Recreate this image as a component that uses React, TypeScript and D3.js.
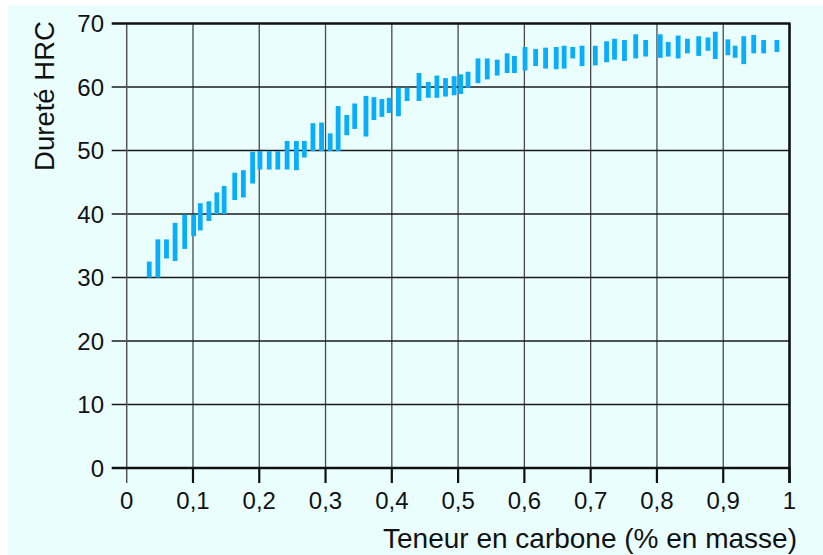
import React, { useRef, useEffect } from "react";
import * as d3 from "d3";

// Carbon content (% mass) at each bar centre, min / max hardness HRC
const carbon = [
  0.034, 0.047, 0.06, 0.073, 0.0875, 0.101, 0.111, 0.124, 0.136, 0.147, 0.163, 0.176,
  0.19, 0.201, 0.215, 0.228, 0.242, 0.256, 0.268, 0.281, 0.294, 0.307, 0.319, 0.332,
  0.344, 0.361, 0.373, 0.385, 0.396, 0.41, 0.423, 0.441, 0.455, 0.468, 0.481, 0.494,
  0.504, 0.515, 0.53, 0.544, 0.559, 0.574, 0.585, 0.601, 0.617, 0.632, 0.648, 0.66,
  0.673, 0.687, 0.707, 0.724, 0.736, 0.751, 0.768, 0.783, 0.805, 0.817, 0.832, 0.846,
  0.863, 0.877, 0.888, 0.907, 0.918, 0.931, 0.946, 0.961, 0.981,
];
const hrcMin = [
  30.0, 30.0, 33.0, 32.6, 34.5, 36.5, 37.4, 38.9, 40.0, 40.0, 42.2, 42.6,
  44.8, 47.0, 47.0, 47.0, 47.0, 46.9, 48.9, 49.9, 49.9, 49.9, 49.9, 52.4,
  53.4, 52.2, 54.8, 55.3, 55.9, 55.4, 57.8, 57.8, 58.3, 58.3, 58.5, 58.7,
  58.9, 59.9, 60.6, 61.2, 61.8, 62.2, 62.2, 62.6, 63.3, 62.9, 62.8, 62.9,
  64.5, 63.3, 63.4, 63.9, 64.3, 64.1, 64.5, 64.8, 64.6, 64.8, 64.5, 65.3,
  64.9, 65.7, 64.4, 65.0, 64.6, 63.6, 65.3, 65.3, 65.5,
];
const hrcMax = [
  32.5, 36.0, 36.0, 38.6, 39.9, 39.9, 41.7, 42.0, 43.4, 44.4, 46.5, 46.9,
  49.8, 49.9, 49.9, 49.9, 51.5, 51.5, 51.5, 54.3, 54.4, 52.7, 57.0, 55.6,
  57.4, 58.6, 58.4, 58.1, 58.3, 59.9, 59.9, 62.2, 60.8, 61.8, 61.4, 61.7,
  62.0, 62.4, 64.5, 64.5, 64.3, 65.3, 64.9, 66.3, 66.0, 66.2, 66.3, 66.5,
  66.3, 66.5, 66.5, 67.2, 67.6, 67.4, 68.3, 67.4, 68.3, 67.1, 68.1, 67.6,
  68.0, 67.8, 68.7, 67.5, 66.5, 68.0, 68.2, 67.4, 67.4,
];
const xTicks = [0, 0.1, 0.2, 0.3, 0.4, 0.5, 0.6, 0.7, 0.8, 0.9, 1];
const yTicks = [0, 10, 20, 30, 40, 50, 60, 70];

const W = 823;
const H = 555;
const FONT = "'Liberation Sans', Arial, sans-serif";

const App = () => {
  const ref = useRef<SVGSVGElement>(null);

  useEffect(() => {
    const svg = d3.select(ref.current);
    svg.selectAll("*").remove();

    const x = d3.scaleLinear().domain([0, 1]).range([126.7, 789.5]);
    const y = d3.scaleLinear().domain([0, 70]).range([468, 23.5]);

    svg.append("rect").attr("width", W).attr("height", H).attr("fill", "#fff");
    svg
      .append("rect")
      .attr("x", 8)
      .attr("y", 5)
      .attr("width", W - 8)
      .attr("height", H - 5)
      .attr("fill", "#eafefe");

    const g = svg.append("g");

    // grid
    g.selectAll("line.vg")
      .data(xTicks.slice(1, -1))
      .enter()
      .append("line")
      .attr("x1", (d) => x(d))
      .attr("x2", (d) => x(d))
      .attr("y1", y(70))
      .attr("y2", y(0))
      .attr("stroke", "#4a4a4a")
      .attr("stroke-width", 1.3);
    g.selectAll("line.hg")
      .data(yTicks.slice(1, -1))
      .enter()
      .append("line")
      .attr("x1", x(0) - 15)
      .attr("x2", x(1))
      .attr("y1", (d) => y(d))
      .attr("y2", (d) => y(d))
      .attr("stroke", "#1a1a1a")
      .attr("stroke-width", 1.4);

    // left axis line (thin, grey)
    g.append("line")
      .attr("x1", x(0))
      .attr("x2", x(0))
      .attr("y1", y(70))
      .attr("y2", y(0) + 15)
      .attr("stroke", "#555")
      .attr("stroke-width", 1.5);

    // x tick marks
    g.selectAll("line.xt")
      .data(xTicks.slice(1))
      .enter()
      .append("line")
      .attr("x1", (d) => x(d))
      .attr("x2", (d) => x(d))
      .attr("y1", y(0))
      .attr("y2", y(0) + 15)
      .attr("stroke", "#111")
      .attr("stroke-width", 2.2);

    // bars
    g.selectAll("rect.bar")
      .data(carbon)
      .enter()
      .append("rect")
      .attr("x", (d) => x(d) - 2.4)
      .attr("width", 4.8)
      .attr("y", (d, i) => y(hrcMax[i]))
      .attr("height", (d, i) => y(hrcMin[i]) - y(hrcMax[i]))
      .attr("fill", "#08aef9");

    // bottom, top and right borders
    g.append("line")
      .attr("x1", x(0) - 15)
      .attr("x2", x(1) + 1)
      .attr("y1", y(0))
      .attr("y2", y(0))
      .attr("stroke", "#111")
      .attr("stroke-width", 2.6);
    g.append("line")
      .attr("x1", x(0) - 15)
      .attr("x2", x(1) + 1)
      .attr("y1", y(70))
      .attr("y2", y(70))
      .attr("stroke", "#111")
      .attr("stroke-width", 2.6);
    g.append("line")
      .attr("x1", x(1))
      .attr("x2", x(1))
      .attr("y1", y(70))
      .attr("y2", y(0) + 15)
      .attr("stroke", "#111")
      .attr("stroke-width", 2.6);

    // tick labels
    g.selectAll("text.xl")
      .data(xTicks)
      .enter()
      .append("text")
      .attr("x", (d) => x(d))
      .attr("y", 509)
      .attr("text-anchor", "middle")
      .style("font-family", FONT)
      .style("font-size", "24px")
      .attr("fill", "#111")
      .text((d) => (d === 0 || d === 1 ? String(d) : String(d).replace(".", ",")));

    g.selectAll("text.yl")
      .data(yTicks)
      .enter()
      .append("text")
      .attr("x", 104)
      .attr("y", (d) => y(d) + 8.5)
      .attr("text-anchor", "end")
      .style("font-family", FONT)
      .style("font-size", "24px")
      .attr("fill", "#111")
      .text((d) => d);

    // axis titles
    g.append("text")
      .attr("x", 797)
      .attr("y", 548)
      .attr("text-anchor", "end")
      .style("font-family", FONT)
      .style("font-size", "28px")
      .attr("fill", "#111")
      .text("Teneur en carbone (% en masse)");

    g.append("text")
      .attr("transform", "translate(54,96) rotate(-90)")
      .attr("text-anchor", "middle")
      .style("font-family", FONT)
      .style("font-size", "27.5px")
      .attr("fill", "#111")
      .text("Dureté HRC");
  }, []);

  return (
    <div style={{ position: "fixed", left: 0, top: 0, width: W, height: H }}>
      <svg ref={ref} width={W} height={H} style={{ display: "block" }}></svg>
    </div>
  );
};

export default App;
